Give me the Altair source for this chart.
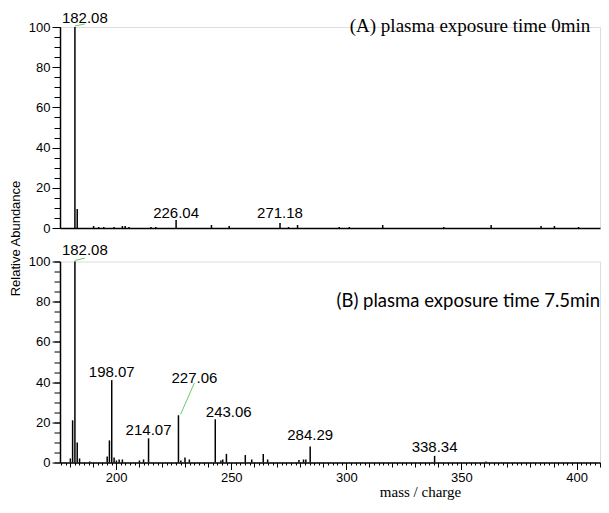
import altair as alt
import pandas as pd

# ---- Spectrum (A): plasma exposure 0 min ----
a_mz = [182.08, 183.08, 190.2, 192.4, 194.6, 199.1, 202.7, 203.9, 205.6, 215.1, 217.2,
        226.04, 241.4, 249.1, 271.18, 274.9, 278.8, 296.9, 301.3, 315.8, 342.3, 362.9,
        384.6, 390.4, 400.9]
a_ab = [100, 9.5, 1, 0.5, 0.5, 0.5, 1, 1, 0.5, 0.5, 0.5,
        4, 1.5, 1, 2.5, 0.5, 1.5, 0.5, 0.5, 1.5, 0.5, 1.5,
        1, 1, 0.5]

# ---- Spectrum (B): plasma exposure 7.5 min ----
b_mz = [180.1, 181.08, 182.08, 183.08, 184.1, 188.5, 196.1, 197.07, 198.07, 199.1, 200.1,
        201.3, 202.7, 210.1, 211.9, 214.07, 227.06, 228.1, 229.9, 231.8, 243.06, 245.5,
        246.3, 247.9, 256.1, 258.9, 263.9, 265.8, 279.4, 281.4, 282.4, 284.29, 338.34, 360.7]
b_ab = [2, 21, 100, 10, 2, 0.5, 3, 11, 41, 2.5, 1,
        1.5, 1.5, 1, 1.5, 12, 23.5, 1, 2.5, 1.5, 21.5, 1,
        1.5, 4.3, 3.7, 1.5, 4.2, 1.5, 1.2, 1.5, 1.5, 8, 3.3, 0.5]

# ---- peak labels ----
a_lab_text = ["182.08", "226.04", "271.18"]
a_lab_mz = [186.4, 226.04, 271.18]
a_lab_y = [102.0, 5.0, 5.0]

b_lab_text = ["182.08", "198.07", "214.07", "227.06", "243.06", "284.29", "338.34"]
b_lab_mz = [186.4, 198.07, 214.07, 234.0, 248.9, 284.29, 338.34]
b_lab_y = [103.0, 42.7, 13.6, 39.5, 22.7, 11.2, 5.4]

# ---- leader lines (from peak top to label) ----
a_lead_x = [182.08]
a_lead_y = [100.5]
a_lead_x2 = [186.4]
a_lead_y2 = [101.5]

b_lead_x = [182.08, 228.0]
b_lead_y = [100.5, 24.0]
b_lead_x2 = [186.4, 234.0]
b_lead_y2 = [101.7, 39.6]

# ---- axis ticks ----
x_major = [200, 250, 300, 350, 400]
x_mid = list(range(180, 411, 10))
x_minor = list(range(176, 411, 2))
y_major = [0, 20, 40, 60, 80, 100]
y_minor = list(range(0, 101, 5))

X_DOMAIN = [175.6, 410.2]
Y_DOMAIN = [0, 100]

W, H = 540, 201
SANS = "Liberation Sans"


def panel(mz, ab, lt, lx, ly, l1x, l1y, l2x, l2y, note, note_font, note_size,
          note_x, note_y, bottom):
    spec = pd.DataFrame({"mz": mz, "ab": ab})
    labs = pd.DataFrame({"text": lt, "lx": lx, "ly": ly})
    leads = pd.DataFrame({"x": l1x, "y": l1y, "x2": l2x, "y2": l2y})
    xs = alt.Scale(domain=X_DOMAIN, nice=False, zero=False)
    ys = alt.Scale(domain=Y_DOMAIN, nice=False)

    if bottom:
        x_ax_major = alt.Axis(values=x_major, tickSize=7, labelPadding=2, labelFontSize=13,
                              labelFont=SANS, title="mass / charge", titleFont="Liberation Serif",
                              titleFontSize=15, titleFontWeight="normal", titleX=360,
                              titlePadding=0, grid=False, orient="bottom",
                              domainWidth=1.5, domainColor="black", tickColor="black")
        x_ax_mid = alt.Axis(values=x_mid, tickSize=4.5, labels=False, domain=False, title=None,
                            grid=False, orient="bottom", tickColor="black")
        x_ax_minor = alt.Axis(values=x_minor, tickSize=2.5, labels=False, domain=False,
                              title=None, grid=False, orient="bottom", tickColor="black")
        y_ax_major = alt.Axis(values=y_major, tickSize=8, labelPadding=2, labelFontSize=13,
                              labelFont=SANS, title=None, grid=False, orient="left",
                              domainWidth=1.5, domainColor="black", tickColor="black")
    else:
        x_ax_major = alt.Axis(ticks=False, labels=False, title=None, grid=False, orient="bottom",
                              domainWidth=1.5, domainColor="black")
        x_ax_mid = None
        x_ax_minor = None
        y_ax_major = alt.Axis(values=y_major, tickSize=8, labelPadding=2, labelFontSize=13,
                              labelFont=SANS, title="Relative Abundance", titleFont=SANS,
                              titleFontSize=13, titleFontWeight="normal", titleX=-38,
                              titleY=H + 10, grid=False, orient="left",
                              domainWidth=1.5, domainColor="black", tickColor="black")
    y_ax_minor = alt.Axis(values=y_minor, tickSize=6, labels=False, domain=False, title=None,
                          grid=False, orient="left", tickColor="black")

    sticks = alt.Chart(spec).mark_rule(color="black", strokeWidth=1.5).encode(
        x=alt.X("mz:Q", scale=xs, axis=x_ax_major),
        y=alt.Y("ab:Q", scale=ys, axis=y_ax_major),
        y2=alt.datum(0),
    )
    texts = alt.Chart(labs).mark_text(font=SANS, fontSize=15, baseline="alphabetic",
                                      align="center", color="black").encode(
        x=alt.X("lx:Q", scale=xs, axis=x_ax_mid),
        y=alt.Y("ly:Q", scale=ys, axis=y_ax_minor),
        text="text:N",
    )
    leaders = alt.Chart(leads).mark_rule(color="#66cc66", strokeWidth=1).encode(
        x=alt.X("x:Q", scale=xs, axis=x_ax_minor),
        y=alt.Y("y:Q", scale=ys, axis=None),
        x2="x2:Q",
        y2="y2:Q",
    )
    ann = alt.Chart(pd.DataFrame({"t": [note]})).mark_text(
        font=note_font, fontSize=note_size, align="right", baseline="alphabetic",
        color="black").encode(
        x=alt.X(datum=note_x, scale=xs, axis=None),
        y=alt.Y(datum=note_y, scale=ys, axis=None),
        text="t:N",
    )
    return alt.layer(sticks, texts, leaders, ann).resolve_axis(
        x="independent", y="independent").properties(width=W, height=H)


top = panel(a_mz, a_ab, a_lab_text, a_lab_mz, a_lab_y, a_lead_x, a_lead_y, a_lead_x2,
            a_lead_y2, "(A) plasma exposure time 0min", "Liberation Serif", 19, 406, 97.4,
            False)
bottom = panel(b_mz, b_ab, b_lab_text, b_lab_mz, b_lab_y, b_lead_x, b_lead_y, b_lead_x2,
               b_lead_y2, "(B) plasma exposure time 7.5min", "Lato", 18.5, 410.2, 77.6, True)

chart = alt.vconcat(top, bottom, spacing=33.5, bounds="flush").properties(
    padding={"left": 0, "top": 2, "right": 0, "bottom": 0}
).configure_view(stroke=None).configure(background="white")

chart.save("out.html", embed_options={"renderer": "svg", "actions": False})
